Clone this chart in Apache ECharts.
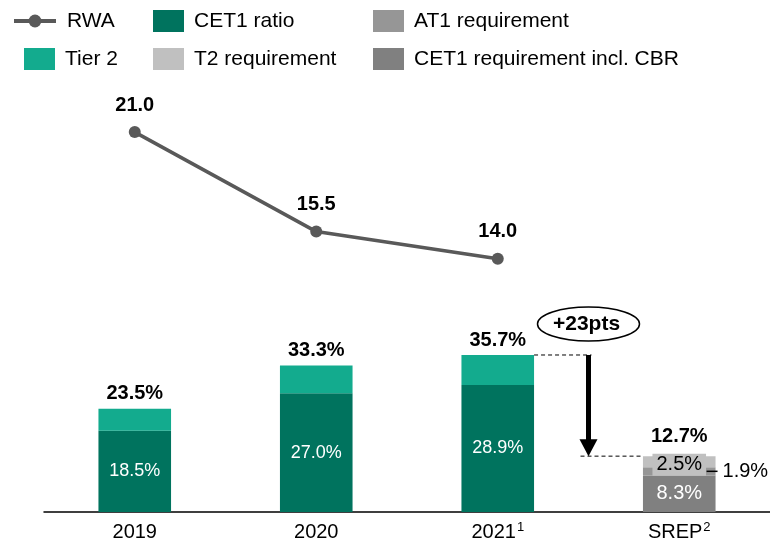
<!DOCTYPE html>
<html><head><meta charset="utf-8">
<script src="https://cdn.jsdelivr.net/npm/echarts@6/dist/echarts.min.js"></script>
<style>html,body{margin:0;padding:0;background:#fff}#c{width:770px;height:543px}</style>
</head><body><div id="c"></div>
<script>
// ---- data ----
const categories = ['2019', '2020', '2021', 'SREP'];
const categorySup = ['', '', '1', '2'];
const rwa = [21.0, 15.5, 14.0];
const cet1Ratio = [18.5, 27.0, 28.9, null];
const tier2 = [5.0, 6.3, 6.8, null];
const cet1Req = [null, null, null, 8.3];
const at1Req = [null, null, null, 1.9];
const t2Req = [null, null, null, 2.5];
const totals = [23.5, 33.3, 35.7, 12.7];
const deltaLabel = '+23pts';

// ---- style ----
const F = "'Liberation Sans', Arial, sans-serif";
const C = {
  rwa: '#595959', cet1: '#00735E', tier2: '#13AB8E',
  cet1Req: '#808080', at1Req: '#969696', t2Req: '#C0C0C0'
};

const chart = echarts.init(document.getElementById('c'), null, {renderer: 'canvas'});

function lg(name, left, top, w, h, pad, extra) {
  return Object.assign({
    data: [name], left: left, top: top, padding: 0, itemWidth: w, itemHeight: h,
    selectedMode: false, icon: 'rect',
    textStyle: {fontSize: 21, color: '#000', fontFamily: F, lineHeight: 22, padding: [0, 0, 0, pad]}
  }, extra || {});
}

const option = {
  animation: false,
  textStyle: {fontFamily: F},
  legend: [
    lg('RWA', 12, 10, 42, 16, 6, {icon: undefined, itemStyle: {color: C.rwa}, lineStyle: {width: 4, color: C.rwa}}),
    lg('CET1 ratio', 153, 10, 31, 22, 5),
    lg('AT1 requirement', 373, 10, 31, 22, 5),
    lg('Tier 2', 24, 48, 31, 22, 5),
    lg('T2 requirement', 153, 48, 31, 22, 5),
    lg('CET1 requirement incl. CBR', 373, 48, 31, 22, 5)
  ],
  grid: {left: 44, right: 0, top: 114, bottom: 29},
  xAxis: [{
    type: 'category', data: categories,
    axisTick: {show: false},
    axisLine: {lineStyle: {color: '#000', width: 1.5}},
    axisLabel: {
      margin: 9, fontSize: 20, color: '#000', fontFamily: F, lineHeight: 22,
      formatter: (v, i) => categorySup[i] ? v + '{s|' + categorySup[i] + '}' : v,
      rich: {s: {fontSize: 13, color: '#000', fontFamily: F, verticalAlign: 'top', lineHeight: 13, padding: [0, 0, 0, 1]}}
    }
  }],
  yAxis: [
    {type: 'value', min: 0, max: 90.5, show: false, splitLine: {show: false}},
    {type: 'value', min: 0, max: 22, show: false, splitLine: {show: false}}
  ],
  series: [
    {
      name: 'CET1 ratio', type: 'bar', stack: 'a', barWidth: '40%', data: cet1Ratio,
      itemStyle: {color: C.cet1},
      label: {show: true, position: 'inside', color: '#fff', fontSize: 18, fontFamily: F,
        formatter: p => p.value.toFixed(1) + '%'}
    },
    {
      name: 'Tier 2', type: 'bar', stack: 'a', barWidth: '40%', data: tier2,
      itemStyle: {color: C.tier2}
    },
    {
      name: 'CET1 requirement incl. CBR', type: 'bar', stack: 'a', barWidth: '40%', data: cet1Req,
      itemStyle: {color: C.cet1Req},
      label: {show: true, position: 'inside', color: '#fff', fontSize: 20, fontFamily: F,
        formatter: p => p.value.toFixed(1) + '%'}
    },
    {
      name: 'AT1 requirement', type: 'bar', stack: 'a', barWidth: '40%', data: at1Req,
      itemStyle: {color: C.at1Req},
      label: {show: true, position: 'right', distance: -9, color: '#000', fontSize: 20, fontFamily: F,
        formatter: p => '{d|}{t|' + p.value.toFixed(1) + '%}',
        rich: {
          d: {width: 11, height: 1.5, backgroundColor: '#000', verticalAlign: 'middle'},
          t: {fontSize: 20, color: '#000', fontFamily: F, padding: [0, 0, 0, 5], verticalAlign: 'middle'}
        }}
    },
    {
      name: 'T2 requirement', type: 'bar', stack: 'a', barWidth: '40%', data: t2Req,
      itemStyle: {color: C.t2Req},
      label: {show: true, position: 'inside', color: '#000', fontSize: 20, fontFamily: F,
        backgroundColor: C.t2Req, padding: [1, 4, 1, 4], offset: [0, 3],
        formatter: p => p.value.toFixed(1) + '%'}
    },
    {
      name: 'total', type: 'bar', stack: 'a', barWidth: '40%', silent: true,
      data: totals.map((t, i) => i === 3 ? {value: 0, label: {distance: 10}} : 0),
      itemStyle: {color: 'rgba(0,0,0,0)'},
      label: {show: true, position: 'top', distance: 5, color: '#000', fontSize: 20, fontWeight: 'bold', fontFamily: F,
        formatter: p => totals[p.dataIndex].toFixed(1) + '%'}
    },
    {
      name: 'RWA', type: 'line', xAxisIndex: 0, yAxisIndex: 1, data: rwa,
      symbol: 'circle', symbolSize: 12,
      lineStyle: {color: C.rwa, width: 3.5}, itemStyle: {color: C.rwa},
      label: {show: true, position: 'top', distance: 11, color: '#000', fontSize: 20, fontWeight: 'bold', fontFamily: F,
        formatter: p => p.value.toFixed(1)}
    }
  ]
};
chart.setOption(option);

// ---- annotation derived from data positions ----
const px = (i, v) => chart.convertToPixel({xAxisIndex: 0, yAxisIndex: 0}, [categories[i], v]);
const band = px(1, 0)[0] - px(0, 0)[0];
const barW = band * 0.4;
const p2 = px(2, totals[2]);
const p3 = px(3, totals[3]);
const ax = (p2[0] + p3[0]) / 2;
const headH = 17;
chart.setOption({
  graphic: [
    {type: 'line', shape: {x1: p2[0] + barW / 2, y1: p2[1], x2: ax + 3, y2: p2[1]},
      style: {stroke: '#000', lineWidth: 1, lineDash: [4, 3]}},
    {type: 'line', shape: {x1: ax - 8, y1: p3[1], x2: p3[0] - barW / 2, y2: p3[1]},
      style: {stroke: '#000', lineWidth: 1, lineDash: [4, 3]}},
    {type: 'rect', shape: {x: ax - 2.5, y: p2[1], width: 5, height: p3[1] - p2[1] - headH + 1},
      style: {fill: '#000'}},
    {type: 'polygon', shape: {points: [[ax - 9, p3[1] - headH], [ax + 9, p3[1] - headH], [ax, p3[1]]]},
      style: {fill: '#000'}},
    {type: 'ellipse', shape: {cx: ax, cy: p2[1] - 31, rx: 51, ry: 17},
      style: {fill: '#fff', stroke: '#000', lineWidth: 1.5}},
    {type: 'text', x: ax - 2, y: p2[1] - 31,
      style: {text: deltaLabel, fill: '#000', font: 'bold 21px ' + F, align: 'center', verticalAlign: 'middle'}}
  ]
});
</script>
</body></html>
